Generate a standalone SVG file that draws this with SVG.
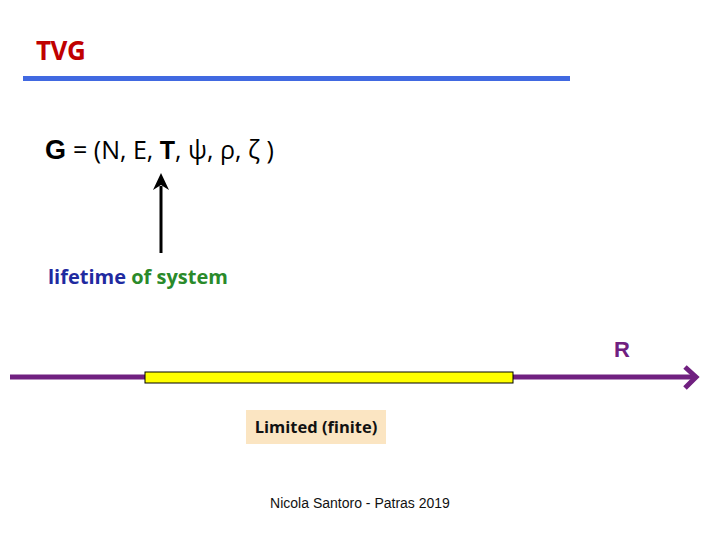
<svg xmlns="http://www.w3.org/2000/svg" width="720" height="540" viewBox="0 0 720 540">
<style>
.cal{font-family:"Open Sans","Liberation Sans",sans-serif}
.ar{font-family:"Liberation Sans",Arial,sans-serif}
</style>
<rect width="720" height="540" fill="#fff"/>
<g id="title">
<text x="36" y="60" class="cal" font-size="26" font-weight="bold" fill="#c00000" letter-spacing="-0.5">TVG</text>
<rect x="23" y="76" width="547" height="5" fill="#4169e1"/>
</g>
<g id="formula">
<text x="45" y="159" font-size="25"><tspan class="ar" font-weight="bold" font-size="27">G</tspan><tspan class="cal" dx="7">= (N, E, </tspan><tspan class="ar" font-weight="bold">T</tspan><tspan class="cal">, ψ, ρ, ζ )</tspan></text>
</g>
<g id="connectors">
<line x1="161" y1="253" x2="161" y2="186" stroke="#000" stroke-width="3"/>
<path d="M161,173 L153,190 L161,185 L169,190 Z" fill="#000"/>
<line x1="10" y1="377" x2="694" y2="377" stroke="#702080" stroke-width="5"/>
<path d="M685,367 L696,377 L685,388" fill="none" stroke="#702080" stroke-width="5" stroke-linejoin="miter"/>
</g>
<g id="lifetime">
<text x="48" y="284" class="cal" font-size="20" font-weight="bold"><tspan fill="#1f2aa0">lifetime</tspan><tspan fill="#2a8a2a"> of system</tspan></text>
</g>
<g id="R">
<text x="614" y="357" class="ar" font-size="22" font-weight="bold" fill="#702080">R</text>
</g>
<g id="interval">
<rect x="145" y="372" width="368" height="11" fill="#ffff00" stroke="#000" stroke-width="1"/>
</g>
<g id="limited">
<rect x="246" y="410" width="140" height="34" fill="#fbe5c2"/>
<text x="316" y="433" text-anchor="middle" class="cal" font-size="16.5" font-weight="bold" fill="#111">Limited (finite)</text>
</g>
<g id="footer">
<text x="360" y="508" text-anchor="middle" class="ar" font-size="14" fill="#111">Nicola Santoro - Patras 2019</text>
</g>
</svg>
